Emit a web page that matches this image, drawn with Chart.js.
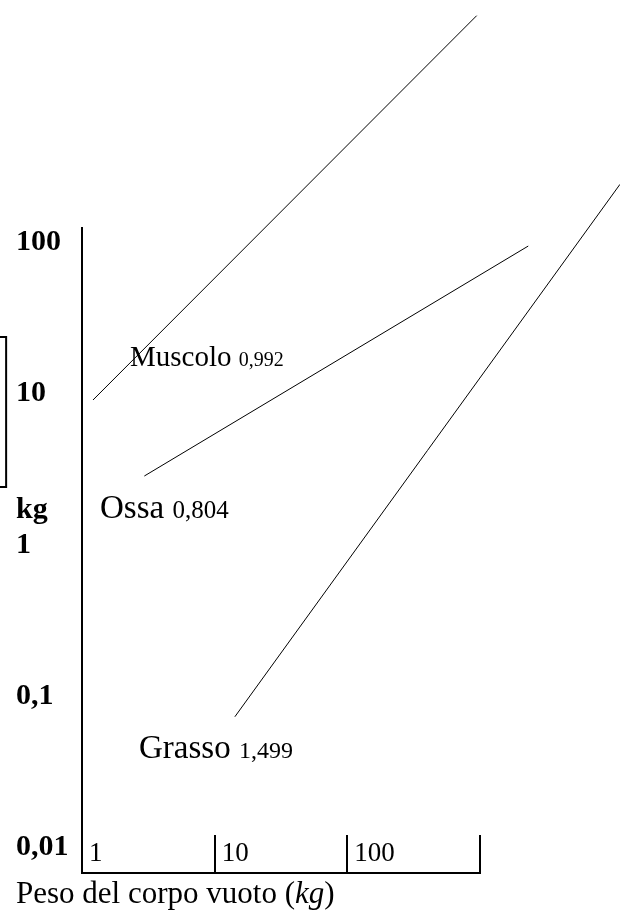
<!DOCTYPE html>
<html>
<head>
<meta charset="utf-8">
<script src="https://cdn.jsdelivr.net/npm/chart.js@4/dist/chart.umd.min.js"></script>
<style>
html, body { margin: 0; padding: 0; background: #ffffff; }
#wrap { width: 620px; height: 910px; }
</style>
</head>
<body>
<div id="wrap"><canvas id="c" width="620" height="910"></canvas></div>
<script>
// ---- data ----
const xTicks = [1, 10, 100, 1000];
const xTickLabels = ['1', '10', '100', ''];
const yTicks = [0.01, 0.1, 1, 10, 100];
const yTickLabels = ['0,01', '0,1', ['kg', '1', ''], '10', '100'];

const tissues = ['Muscolo', 'Ossa', 'Grasso'];
const exponents = ['0,992', '0,804', '1,499'];

// endpoints of each allometric line (body weight kg, tissue kg)
const lineStartX = [1.21, 2.95, 14.2];
const lineStartY = [9.07, 2.85, 0.0729];
const lineEndX = [944, 2310, 11350];
const lineEndY = [3158, 94.6, 242];

// label anchors in data units
const labelX = [2.30, 1.367, 2.69];
const labelY = [15.2, 1.504, 0.0389];

// partial box at the left margin (data units)
const frameX = [0.200, 0.268, 0.268, 0.200];
const frameY = [23.7, 23.7, 2.41, 2.41];

const xTitle = 'Peso del corpo vuoto (';
const xTitleUnit = 'kg';
const xTitleEnd = ')';

// ---- styles ----
const SERIF = "'Liberation Serif', 'Times New Roman', Times, serif";
const nameFontSize = [29, 33, 33];
const expFontSize = [20, 25, 24];

const datasets = tissues.map((name, i) => ({
  label: name,
  data: [{ x: lineStartX[i], y: lineStartY[i] }, { x: lineEndX[i], y: lineEndY[i] }],
  showLine: true,
  borderColor: '#000000',
  borderWidth: 1,
  pointRadius: 0,
  clip: false
}));
datasets.push({
  label: 'frame',
  data: frameX.map((x, i) => ({ x: x, y: frameY[i] })),
  showLine: true,
  borderColor: '#000000',
  borderWidth: 2,
  pointRadius: 0,
  clip: false
});

const textPlugin = {
  id: 'textPlugin',
  afterDatasetsDraw(chart) {
    const ctx = chart.ctx;
    const xs = chart.scales.x, ys = chart.scales.y;
    ctx.save();
    ctx.fillStyle = '#000000';
    ctx.textBaseline = 'alphabetic';
    ctx.textAlign = 'left';
    tissues.forEach((name, i) => {
      const px = xs.getPixelForValue(labelX[i]);
      const py = ys.getPixelForValue(labelY[i]);
      ctx.font = nameFontSize[i] + 'px ' + SERIF;
      const t = name + ' ';
      ctx.fillText(t, px, py);
      const w = ctx.measureText(t).width;
      ctx.font = expFontSize[i] + 'px ' + SERIF;
      ctx.fillText(exponents[i], px + w, py);
    });
    // x axis title
    let tx = ys.left;
    const ty = xs.bottom - 7;
    ctx.font = '31px ' + SERIF;
    ctx.fillText(xTitle, tx, ty);
    tx += ctx.measureText(xTitle).width;
    ctx.font = 'italic 31px ' + SERIF;
    ctx.fillText(xTitleUnit, tx, ty);
    tx += ctx.measureText(xTitleUnit).width;
    ctx.font = '31px ' + SERIF;
    ctx.fillText(xTitleEnd, tx, ty);
    ctx.restore();
  }
};

new Chart(document.getElementById('c'), {
  type: 'scatter',
  data: { datasets: datasets },
  options: {
    responsive: false,
    animation: false,
    devicePixelRatio: 1,
    layout: { padding: { left: 16, top: 228, right: 140, bottom: 0 } },
    plugins: { legend: { display: false }, tooltip: { enabled: false } },
    scales: {
      x: {
        type: 'logarithmic',
        position: 'bottom',
        min: 1,
        max: 1000,
        afterBuildTicks: (s) => { s.ticks = xTicks.map(v => ({ value: v })); },
        afterFit: (s) => { s.height = 37; },
        ticks: {
          callback: (v, i) => xTickLabels[i],
          autoSkip: false,
          maxRotation: 0,
          minRotation: 0,
          align: 'start',
          mirror: true,
          labelOffset: 7,
          padding: 3,
          color: '#000000',
          font: { family: SERIF, size: 27 }
        },
        grid: {
          drawOnChartArea: false,
          drawTicks: true,
          tickLength: -38,
          color: '#000000',
          lineWidth: 2
        },
        border: { display: true, color: '#000000', width: 2 }
      },
      y: {
        type: 'logarithmic',
        position: 'left',
        min: 0.006752,
        max: 124.5,
        afterBuildTicks: (s) => { s.ticks = yTicks.map(v => ({ value: v })); },
        afterFit: (s) => { s.width = 66; },
        ticks: {
          callback: (v, i) => yTickLabels[i],
          autoSkip: false,
          crossAlign: 'far',
          padding: 0,
          color: '#000000',
          font: { family: SERIF, size: 30, weight: 'bold', lineHeight: '35px' }
        },
        grid: { drawOnChartArea: false, drawTicks: false },
        border: { display: true, color: '#000000', width: 2 }
      }
    }
  },
  plugins: [textPlugin]
});
</script>
</body>
</html>
